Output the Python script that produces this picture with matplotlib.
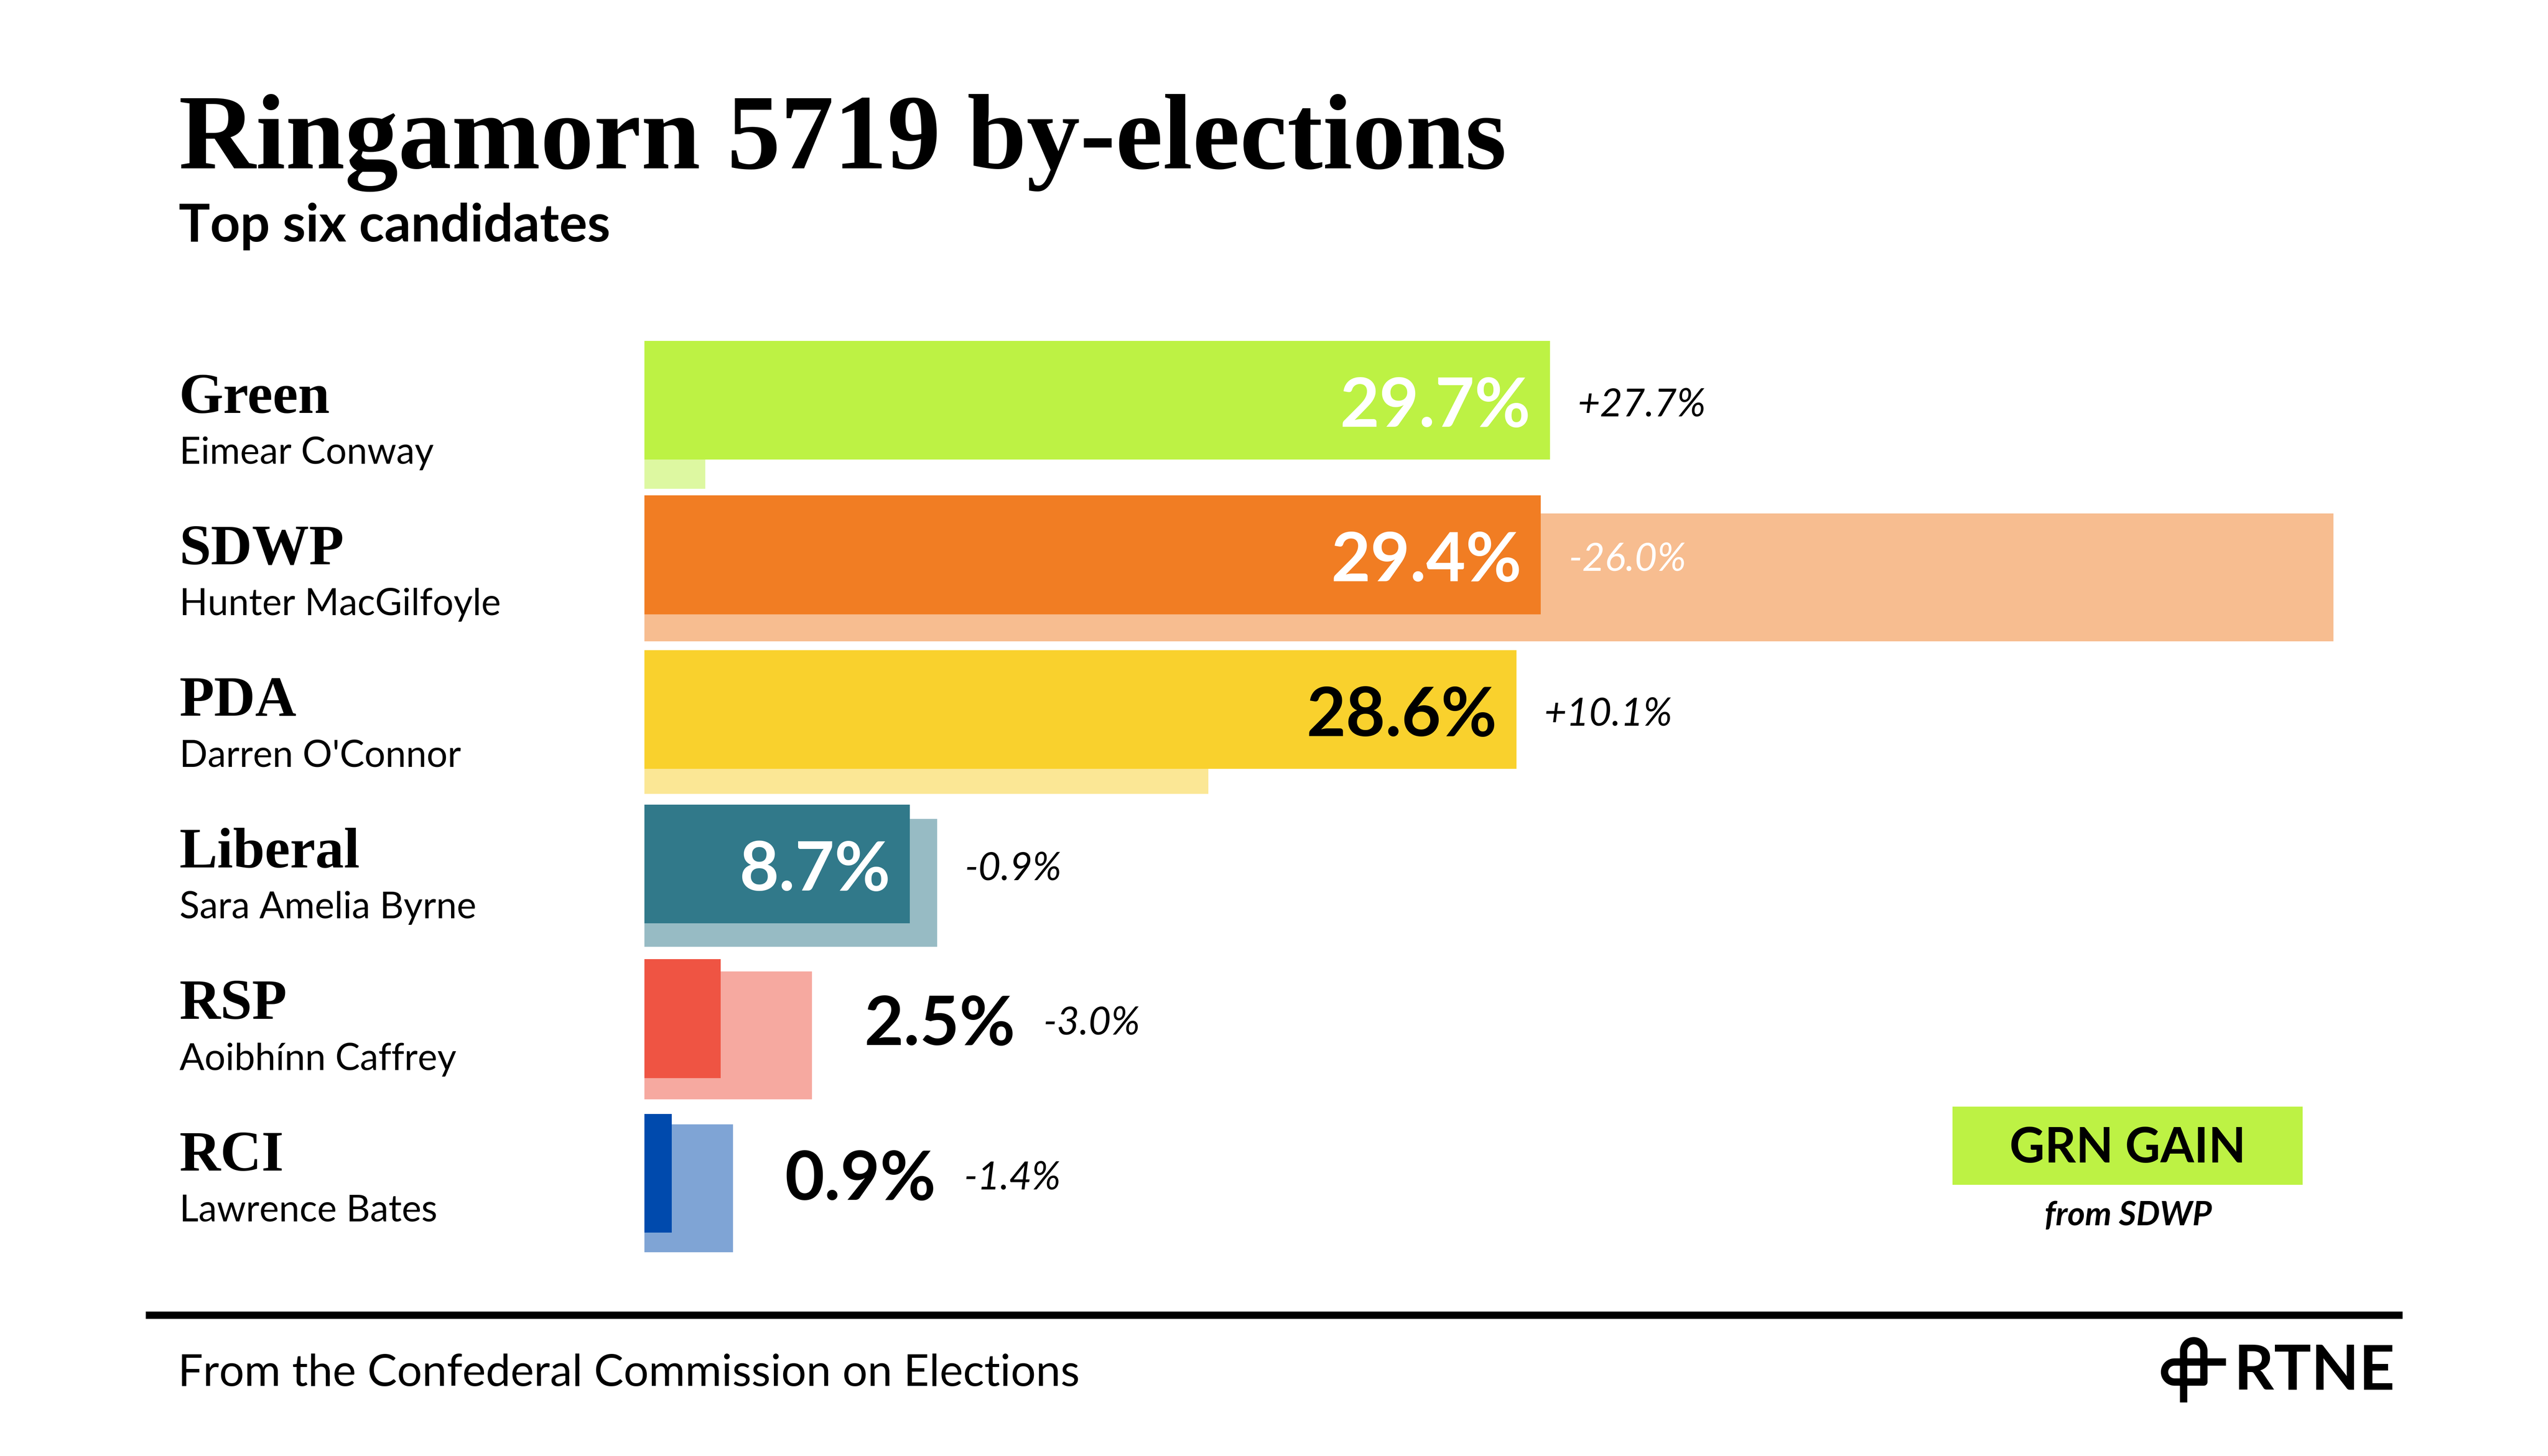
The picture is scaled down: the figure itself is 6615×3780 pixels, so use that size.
import matplotlib
matplotlib.use('Agg')
import matplotlib.pyplot as plt
from matplotlib.patches import Rectangle
import numpy as np

# data
parties = ['Green', 'SDWP', 'PDA', 'Liberal', 'RSP', 'RCI']
candidates = ['Eimear Conway', 'Hunter MacGilfoyle', "Darren O'Connor",
              'Sara Amelia Byrne', 'Aoibhínn Caffrey', 'Lawrence Bates']
share = [29.7, 29.4, 28.6, 8.7, 2.5, 0.9]
prev_share = [2.0, 55.4, 18.5, 9.6, 5.5, 2.9]
change = [27.7, -26.0, 10.1, -0.9, -3.0, -1.4]

colors = ['#BDF244', '#F17D23', '#F9D12D', '#31798A', '#EF5443', '#004AAD']
inside_text = ['white', 'white', 'black', 'white', 'black', 'black']

W, H, DPI = 6615, 3780, 300
PX = 72 / DPI  # points per pixel

fig = plt.figure(figsize=(W / DPI, H / DPI), dpi=DPI, facecolor='white')

# bar area (pixel layout of the original)
x0, ppu, xend = 1673, 79.15, 6237
row_px, first_px = 401.4, 1039
top_px = first_px - 0.6 * row_px
bot_px = first_px + 5.6 * row_px
ax = fig.add_axes([x0 / W, 1 - bot_px / H, (xend - x0) / W, (bot_px - top_px) / H])
ax.set_xlim(0, (xend - x0) / ppu)
ax.set_ylim(5.6, -0.6)
ax.axis('off')

rows = np.arange(len(parties))
prev_rows = 0.1587 + rows * 0.9875
ax.barh(prev_rows, prev_share, height=0.827, color=colors, alpha=0.5, zorder=1)
ax.barh(rows, share, height=0.7686, color=colors, zorder=2)

# overlay in pixel coordinates for text and decorations
ov = fig.add_axes([0, 0, 1, 1])
ov.set_xlim(0, W)
ov.set_ylim(H, 0)
ov.axis('off')

renderer = fig.canvas.get_renderer()


def to_px(x, y):
    dx, dy = ax.transData.transform((x, y))
    return dx, H - dy


def lato(size_px, **kw):
    return dict(fontsize=size_px * PX, fontfamily='Lato', **kw)


# title
ov.text(464, 437.5, 'Ringamorn 5719 by-elections', fontsize=277 * PX,
        fontfamily='Liberation Serif', fontweight='bold', va='baseline')
ov.text(464, 627.5, 'Top six candidates', va='baseline', **lato(136, fontweight='bold'))

# party / candidate labels
for i, (p, c) in enumerate(zip(parties, candidates)):
    base = 1071.6 + i * 393.4
    ov.text(465, base, p, fontsize=148 * PX, fontfamily='Liberation Serif',
            fontweight='bold', va='baseline')
    ov.text(466, base + 132.4, c, va='baseline', **lato(96))

# value and change labels
PCT, CHG = 177, 101
for i in range(len(parties)):
    _, cy = to_px(0, rows[i])
    xm, _ = to_px(share[i], 0)
    xp, _ = to_px(prev_share[i], 0)
    yb = cy + 5 + 0.36 * PCT
    t = ov.text(xm - 50, yb, f'{share[i]:.1f}%', ha='right', va='baseline',
                color=inside_text[i], **lato(PCT, fontweight='bold'))
    w = t.get_window_extent(renderer).width
    if w + 110 > xm - x0:
        lx = max(xm, xp) + 135
        t.set_position((lx, yb))
        t.set_ha('left')
        t.set_color('black')
        right = lx + w
    else:
        right = xm
    if 0 < xp - right < 5 * ppu:
        right = xp
    cx = right + 72
    ov.text(cx, cy + 5 + 0.36 * CHG, f'{change[i]:+.1f}%', ha='left', va='baseline',
            color='white' if cx < xp else 'black', **lato(CHG, fontstyle='italic'))

# gain box
ov.add_patch(Rectangle((5069, 2873), 909, 203, color='#BDF244', lw=0))
ov.text(5523.7, 3018, 'GRN GAIN', ha='center', va='baseline', **lato(126, fontweight='bold'))
ov.text(5525, 3181, 'from SDWP', ha='center', va='baseline',
        **lato(87, fontweight='bold', fontstyle='italic'))

# footer
ov.plot([378, 6237], [3413.8, 3413.8], color='black', lw=19 * PX, solid_capstyle='butt')
ov.text(462, 3598.3, 'From the Confederal Commission on Elections', va='baseline', **lato(115))
ov.text(5800, 3607.5, 'RTNE', va='baseline', **lato(161, fontweight='bold'))

# logo mark
r = 26.25
a1 = np.linspace(np.pi, 0, 30)
arch_x = 5695.25 + r * np.cos(a1)
arch_y = 3507 - r * np.sin(a1)
a2 = np.linspace(np.pi / 2, 3 * np.pi / 2, 30)
bowl_x = 5645.5 + 26 * np.cos(a2)
bowl_y = 3562 + 26 * np.sin(a2)
lx = np.concatenate([[5669], arch_x, [5721.5, 5645.5], bowl_x, [5779]])
ly = np.concatenate([[3641], arch_y, [3588, 3588], bowl_y, [3536]])
ov.plot(lx, ly, color='black', lw=19 * PX, solid_capstyle='butt', solid_joinstyle='round')

fig.savefig('out.png', dpi=DPI, facecolor='white')
